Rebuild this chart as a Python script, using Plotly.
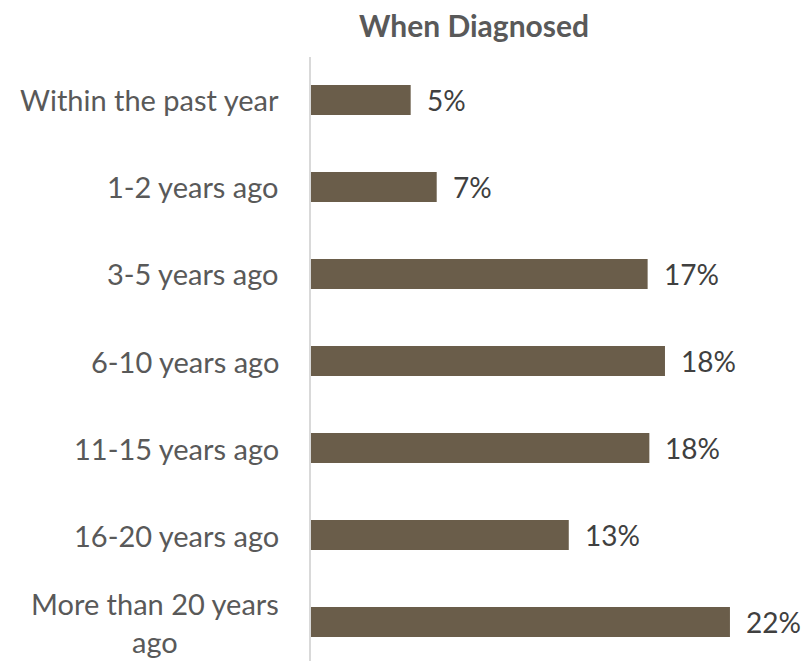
import plotly.graph_objects as go

# Time since diagnosis (share of respondents, %)
categories = [
    "Within the past year",
    "1-2 years ago",
    "3-5 years ago",
    "6-10 years ago",
    "11-15 years ago",
    "16-20 years ago",
    "More than 20 years<br>ago",
]
shares = [5.17, 6.52, 17.46, 18.36, 17.55, 13.37, 21.73]

BAR_COLOR = "#6A5D4A"
FONT = "Lato"

fig = go.Figure(
    go.Bar(
        x=shares,
        y=categories,
        orientation="h",
        marker=dict(color=BAR_COLOR, line=dict(width=0)),
        width=0.345,
        hoverinfo="skip",
    )
)

annotations = []
for cat, val in zip(categories, shares):
    # category label to the left of the axis, centred per line
    annotations.append(dict(
        x=0, xref="paper", y=cat, yref="y",
        xanchor="right", yanchor="middle", xshift=-30,
        text=cat, showarrow=False, align="center",
        font=dict(family=FONT, size=29, color="#595959"),
    ))
    # value label after the bar end
    annotations.append(dict(
        x=val, xref="x", y=cat, yref="y",
        xanchor="left", yanchor="middle", xshift=14,
        text=f"{val:.0f}%", showarrow=False,
        font=dict(family=FONT, size=28, color="#404040"),
    ))

fig.update_layout(
    width=806, height=661,
    margin=dict(l=311, r=0, t=57, b=0),
    paper_bgcolor="white", plot_bgcolor="white",
    showlegend=False,
    title=dict(
        text="<b>When Diagnosed</b>",
        x=474 / 806, xanchor="center", xref="container",
        y=1 - 26 / 661, yanchor="middle", yref="container",
        font=dict(family=FONT, size=30, color="#595959"),
    ),
    xaxis=dict(
        range=[0, 495 / 19.28], showgrid=False, zeroline=False,
        showticklabels=False, showline=False, fixedrange=True,
    ),
    yaxis=dict(
        type="category", categoryorder="array", categoryarray=categories,
        range=[6.448, -0.494], showgrid=False, zeroline=False,
        showticklabels=False, showline=True, linecolor="#D9D9D9", linewidth=1.5,
        ticks="", fixedrange=True,
    ),
    annotations=annotations,
)

fig.write_html("out.html")
